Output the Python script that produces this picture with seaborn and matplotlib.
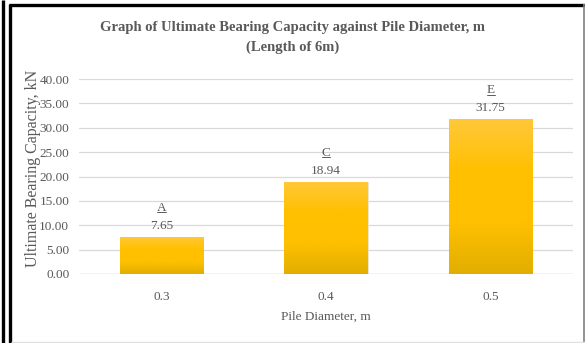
import numpy as np
import pandas as pd
import matplotlib
matplotlib.use("Agg")
import matplotlib.pyplot as plt
from matplotlib.colors import LinearSegmentedColormap
from matplotlib.lines import Line2D
import seaborn as sns

diameters = ["0.3", "0.4", "0.5"]
capacity = [7.65, 18.94, 31.75]
pile_ids = ["A", "C", "E"]
y_ticks = [0, 5, 10, 15, 20, 25, 30, 35, 40]

sns.set_theme(style="white")
plt.rcParams["font.family"] = ["Liberation Serif", "DejaVu Serif"]

df = pd.DataFrame({"Diameter": diameters, "Capacity": capacity})

fig = plt.figure(figsize=(5.85, 3.43), dpi=100)
ax = fig.add_axes([79 / 585, 1 - 274 / 343, 494 / 585, 195 / 343])

sns.barplot(data=df, x="Diameter", y="Capacity", color="#FFC000",
            width=0.505, saturation=1, ax=ax)

ax.set_ylim(0, 40)
ax.set_xlim(-0.5, 2.5)
ax.set_yticks(y_ticks)
ax.set_yticklabels([f"{v:.2f}" for v in y_ticks])
ax.yaxis.grid(True, color="#D9D9D9", linewidth=0.9)
ax.set_axisbelow(True)
for s in ax.spines.values():
    s.set_visible(False)
ax.axhline(0, color="#D9D9D9", linewidth=1.0, zorder=1)
ax.tick_params(axis="both", length=0, labelsize=9.5, colors="#595959")
ax.tick_params(axis="x", pad=12)
ax.tick_params(axis="y", pad=7)

ax.set_xlabel("Pile Diameter, m", fontsize=9.5, color="#595959", labelpad=6)
ax.set_ylabel("Ultimate Bearing Capacity, kN", fontsize=11.5, color="#595959")
ax.yaxis.set_label_coords(-0.077, 0.54)

# vertical gradient fill for each bar
grad = LinearSegmentedColormap.from_list(
    "gold", ["#E1AE00", "#FFC000", "#FFC000", "#FFC83A"])
img = np.linspace(0, 1, 256).reshape(-1, 1)
for bar in ax.patches:
    x0, y0 = bar.get_x(), bar.get_y()
    w, h = bar.get_width(), bar.get_height()
    bar.set_facecolor("none")
    bar.set_edgecolor("#E8E0C8")
    bar.set_linewidth(0.6)
    im = ax.imshow(img, cmap=grad, aspect="auto", origin="lower",
                   extent=[x0, x0 + w, y0, y0 + h], zorder=2)
    im.set_clip_path(bar)

# value and pile labels above bars
letters = []
for i, (val, pid) in enumerate(zip(capacity, pile_ids)):
    ax.annotate(f"{val:.2f}", (i, val), xytext=(0, 3.5), textcoords="offset points",
                ha="center", va="bottom", fontsize=9.5, color="#595959")
    t = ax.annotate(pid, (i, val), xytext=(0, 16.5), textcoords="offset points",
                    ha="center", va="bottom", fontsize=9.5, color="#595959")
    letters.append(t)

fig.canvas.draw()
renderer = fig.canvas.get_renderer()
inv = fig.transFigure.inverted()
for t in letters:
    bb = t.get_window_extent(renderer)
    (x0, y0), (x1, _) = inv.transform([[bb.x0, bb.y0 + 1.5], [bb.x1, bb.y0]])
    fig.add_artist(Line2D([x0, x1], [y0, y0], color="#595959", linewidth=0.7))

fig.text(0.5, 1 - 28 / 343,
         "Graph of Ultimate Bearing Capacity against Pile Diameter, m",
         ha="center", va="center", fontsize=10.5, fontweight="bold", color="#595959")
fig.text(0.5, 1 - 47 / 343, "(Length of 6m)",
         ha="center", va="center", fontsize=10.5, fontweight="bold", color="#595959")

# outer frame
def fline(xs, ys, color, lw):
    fig.add_artist(Line2D([x / 585 for x in xs], [1 - y / 343 for y in ys],
                          color=color, linewidth=lw, solid_capstyle="butt"))

fline([2.5, 2.5], [0, 343], "black", 2.4)
fline([9.5, 9.5], [4, 343], "black", 2.4)
fline([8.5, 585], [4.5, 4.5], "black", 2.4)
fline([583.5, 583.5], [4, 343], "#808080", 1.2)
fline([11, 585], [341.5, 341.5], "#E0E0E0", 1.0)

fig.savefig("out.png", dpi=100)
